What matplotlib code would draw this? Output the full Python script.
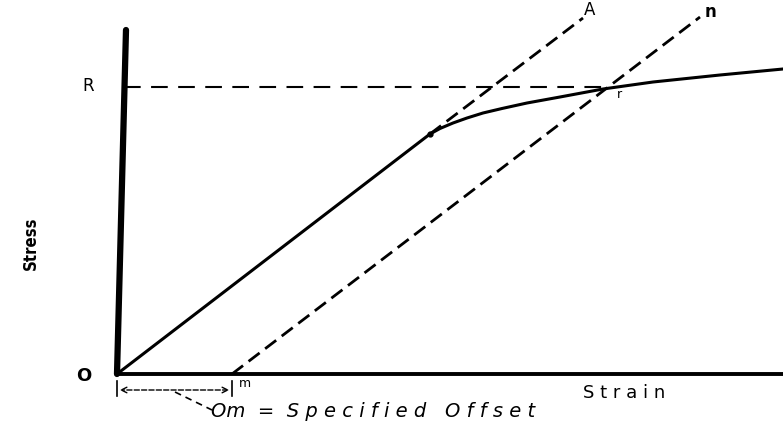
import matplotlib
matplotlib.use("Agg")
import matplotlib.pyplot as plt

# stress-strain curve (strain, stress), origin at O
curve_strain = [0, 283, 313, 323, 336, 350, 366, 385, 410, 443, 486, 536, 603, 666]
curve_stress = [0, 217, 240, 245.5, 251, 256, 261, 265.5, 271, 277, 285, 292, 299, 305]

# elastic line extended (O-A) and offset line (m-n)
line_a_strain = [313, 466]
line_a_stress = [240, 356]
line_mn_strain = [115, 583]
line_mn_stress = [0, 357]

# offset yield stress R
r_stress = 287
r_strain = 490
offset_m = 115

fig = plt.figure(figsize=(7.83, 4.36), dpi=100)
ax = fig.add_axes([0, 0, 1, 1])
ax.set_xlim(-117, 666)
ax.set_ylim(-62, 374)
ax.axis("off")

dash = (0, (5, 2.5))

# axes drawn by hand, like the sketch
ax.plot([0, 9], [0, 344], color="black", lw=4.5, solid_capstyle="round")
ax.plot([0, 666], [0, 0], color="black", lw=2.8)

ax.plot(curve_strain, curve_stress, color="black", lw=2.2,
        solid_joinstyle="round")
ax.plot(line_a_strain, line_a_stress, color="black", lw=2, linestyle=dash)
ax.plot(line_mn_strain, line_mn_stress, color="black", lw=2, linestyle=dash)
ax.plot([7, r_strain], [r_stress, r_stress], color="black", lw=1.5,
        linestyle=(0, (8, 5)))
ax.plot([313], [240], marker="o", ms=3.5, color="black")

# offset dimension O-m
ax.annotate("", xy=(0, -16), xytext=(offset_m, -16),
            arrowprops=dict(arrowstyle="<->", lw=1, linestyle="--", color="black"))
ax.plot([0, 0], [-7, -22], color="black", lw=1.2)
ax.plot([offset_m, offset_m], [-7, -22], color="black", lw=1.2)
ax.plot([58, 95], [-18, -36], color="black", lw=1.2, linestyle=(0, (4, 3)))

ax.text(-29, 288, "R", fontsize=12, ha="center", va="center")
ax.text(-33, -2, "O", fontsize=13, ha="center", va="center", fontweight="bold")
ax.text(128, -9, "m", fontsize=9, ha="center", va="center")
ax.text(473, 364, "A", fontsize=12, ha="center", va="center")
ax.text(594, 362, "n", fontsize=12, ha="center", va="center", fontweight="bold")
ax.text(502, 279, "r", fontsize=9, ha="center", va="center")
ax.text(507, -19, "S t r a i n", fontsize=13, ha="center", va="center")
ax.text(-86, 131, "Stress", fontsize=12, ha="center", va="center",
        rotation=90, fontweight="bold", fontstretch="condensed")
ax.text(94, -37, "Om  =  S p e c i f i e d   O f f s e t", fontsize=14,
        ha="left", va="center", style="italic")

fig.savefig("out.png", dpi=100)
